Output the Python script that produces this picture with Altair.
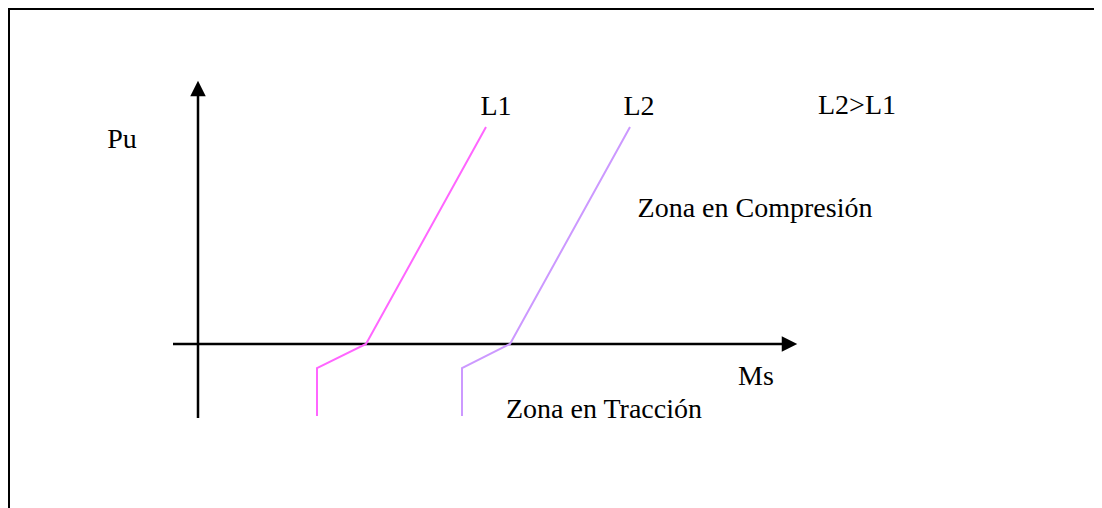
import altair as alt
import pandas as pd

# Schematic units (origin at the axes crossing)
axis_y_x = [0, 0]
axis_y_y = [-74, 248]
axis_x_x = [-25, 584]
axis_x_y = [0, 0]

l1_x = [119, 119, 168, 288]
l1_y = [-72, -24, 0, 217]
l2_x = [264, 264, 312, 432]
l2_y = [-72, -24, 0, 217]

arrow_x = [0, 591.5]
arrow_y = [255.5, 0]
arrow_shape = ["M0,-1L1,1L-1,1Z", "M1,0L-1,-1L-1,1Z"]

label_text = ["Pu", "L1", "L2", "L2>L1", "Zona en Compresión", "Ms", "Zona en Tracción"]
label_x = [-76, 298, 441, 659, 557, 558, 406]
label_y = [196, 229, 229, 230, 127, -41, -74]

# frame (left and top edges only, the rest runs off the page)
frame_x = [-189, -189, 896]
frame_y = [-164, 335, 335]

XD = [-190, 896]
YD = [-164, 336]
W, H = 1086, 500

xs = alt.Scale(domain=XD, nice=False, zero=False)
ys = alt.Scale(domain=YD, nice=False, zero=False)


def line_df(xv, yv, name):
    return pd.DataFrame({"x": xv, "y": yv, "i": list(range(len(xv))), "s": name})


frame_df = line_df(frame_x, frame_y, "frame")
axes_df = pd.concat([line_df(axis_y_x, axis_y_y, "ay"), line_df(axis_x_x, axis_x_y, "ax")])
curves_df = pd.concat([line_df(l1_x, l1_y, "L1"), line_df(l2_x, l2_y, "L2")])

frame = alt.Chart(frame_df).mark_line(strokeWidth=2, color="black").encode(
    x=alt.X("x:Q", scale=xs, axis=None),
    y=alt.Y("y:Q", scale=ys, axis=None),
    order="i:Q",
)

axes = alt.Chart(axes_df).mark_line(strokeWidth=2.5, color="black").encode(
    x=alt.X("x:Q", scale=xs, axis=None),
    y=alt.Y("y:Q", scale=ys, axis=None),
    detail="s:N",
    order="i:Q",
)

curves = alt.Chart(curves_df).mark_line(strokeWidth=2).encode(
    x=alt.X("x:Q", scale=xs, axis=None),
    y=alt.Y("y:Q", scale=ys, axis=None),
    color=alt.Color("s:N", scale=alt.Scale(domain=["L1", "L2"], range=["#FF66FF", "#CC99FF"]), legend=None),
    order="i:Q",
)

arrows_df = pd.DataFrame({"x": arrow_x, "y": arrow_y, "shape": arrow_shape})
arrows = alt.Chart(arrows_df).mark_point(filled=True, color="black", opacity=1, size=240, strokeWidth=0).encode(
    x=alt.X("x:Q", scale=xs, axis=None),
    y=alt.Y("y:Q", scale=ys, axis=None),
    shape=alt.Shape("shape:N", scale=None),
)

labels_df = pd.DataFrame({"x": label_x, "y": label_y, "t": label_text})
labels = alt.Chart(labels_df).mark_text(
    font="Liberation Serif", fontSize=28, color="black", align="center", baseline="alphabetic"
).encode(
    x=alt.X("x:Q", scale=xs, axis=None),
    y=alt.Y("y:Q", scale=ys, axis=None),
    text="t:N",
)

chart = (
    alt.layer(frame, axes, curves, arrows, labels)
    .properties(width=W, height=H, padding=0, autosize=alt.AutoSizeParams(type="none"))
    .configure(background="white", view=alt.ViewConfig(stroke=None, strokeWidth=0))
)

chart.save("out.html", embed_options={"renderer": "svg", "actions": False})
